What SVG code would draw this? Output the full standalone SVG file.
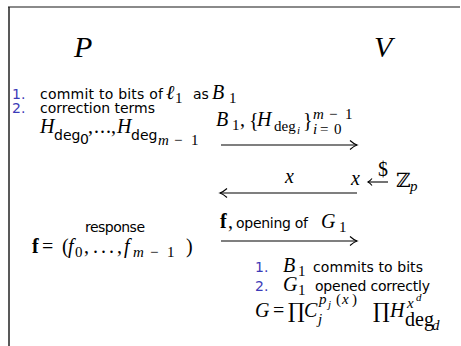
<svg xmlns="http://www.w3.org/2000/svg" width="461" height="346" viewBox="0 0 461 346">
<style>
.s{font-family:"DejaVu Sans","Liberation Sans",sans-serif;font-size:14px;fill:#000}
.n{font-family:"DejaVu Sans","Liberation Sans",sans-serif;font-size:14px;fill:#3b3bb8}
.m{font-family:"Liberation Serif","DejaVu Serif",serif;font-style:italic;font-size:20px;fill:#000}
.r{font-family:"Liberation Serif","DejaVu Serif",serif;font-size:20px;fill:#000}
.b{font-family:"Liberation Serif","DejaVu Serif",serif;font-weight:bold;font-size:20px;fill:#000}
.sub{font-size:15px}
.ss{font-size:11px}
.pr{font-family:"DejaVu Serif","Liberation Serif",serif;font-size:21px;fill:#000}
.cal{font-family:"Liberation Serif","DejaVu Serif",serif;font-style:italic;font-size:30px;fill:#000}
.ln{stroke:#000;stroke-width:1.1;fill:none}
</style>
<defs>
<marker id="ah" markerWidth="12" markerHeight="12" refX="10" refY="6" orient="auto" markerUnits="userSpaceOnUse">
<path d="M3 1.5 Q7 5 10 6 Q7 7 3 10.5" fill="none" stroke="#000" stroke-width="1.1"/>
</marker>
</defs>
<rect width="461" height="346" fill="#fff"/>
<g id="frame">
<line x1="8" y1="7" x2="460" y2="7" stroke="#8a8a8a" stroke-width="2"/>
<line x1="9" y1="7" x2="9" y2="346" stroke="#222" stroke-width="1.5"/>
</g>
<g id="prover"><text class="cal" x="74" y="57">P</text></g>
<g id="verifier"><text class="cal" x="374" y="57">V</text></g>
<g id="prover-steps">
<text class="n" x="12" y="99">1.</text>
<text class="s" x="40" y="99" textLength="123">commit to bits of</text>
<text class="m" x="166" y="99">ℓ</text><text class="r sub" x="175" y="103">1</text>
<text class="s" x="193" y="99">as</text>
<text class="m" x="212" y="99">B</text><text class="r sub" x="229" y="103">1</text>
<text class="n" x="12" y="113">2.</text>
<text class="s" x="40" y="113" textLength="115">correction terms</text>
<text class="m" x="40" y="133">H</text><text class="s" x="54" y="140">deg</text><text class="s" x="80" y="144" font-size="11">0</text>
<text class="r" x="88" y="133">,</text><text class="r" x="94" y="133" font-size="16">.</text><text class="r" x="100" y="133" font-size="16">.</text><text class="r" x="106" y="133" font-size="16">.</text><text class="r" x="111" y="133">,</text>
<text class="m" x="117" y="133">H</text><text class="s" x="131" y="140">deg</text><text class="m sub" x="158" y="145">m</text><text class="r sub" x="174" y="145">−</text><text class="r sub" x="191" y="145">1</text>
</g>
<g id="response">
<text class="s" x="85" y="232" textLength="60">response</text>
<text class="b" x="32" y="253">f</text>
<text class="r" x="42" y="253">=</text>
<text class="r" x="62" y="253">(</text>
<text class="m" x="68" y="253">f</text><text class="r sub" x="75" y="257">0</text>
<text class="r" x="84" y="253">,</text><text class="r" x="93" y="253" font-size="16">.</text><text class="r" x="101" y="253" font-size="16">.</text><text class="r" x="109" y="253" font-size="16">.</text><text class="r" x="117" y="253">,</text>
<text class="m" x="124" y="253">f</text><text class="m sub" x="133" y="257">m</text><text class="r sub" x="150" y="257">−</text><text class="r sub" x="167" y="257">1</text>
<text class="r" x="186" y="253">)</text>
</g>
<g id="verifier-challenge">
<text class="m" x="351" y="185">x</text>
<text class="r" x="378" y="176" font-size="10">$</text>
<line x1="368" y1="182" x2="388" y2="182" class="ln"/>
<path d="M372 178.5 Q370 181 368 182 Q370 183 372 185.5" class="ln"/>
<text class="r" x="396" y="187">ℤ</text><text class="m sub" x="410" y="191">p</text>
</g>
<g id="verifier-checks">
<text class="n" x="255" y="272">1.</text>
<text class="m" x="283" y="272">B</text><text class="r sub" x="298" y="276">1</text>
<text class="s" x="313" y="272" textLength="110">commits to bits</text>
<text class="n" x="255" y="291">2.</text>
<text class="m" x="283" y="291">G</text><text class="r sub" x="298" y="295">1</text>
<text class="s" x="315" y="291" textLength="115">opened correctly</text>
<text class="m" x="255" y="317">G</text>
<text class="r" x="273" y="317">=</text>
<text class="pr" x="288" y="318">∏</text>
<text class="m" x="304" y="317">C</text>
<text class="m sub" x="319" y="304">p</text><text class="m ss" x="328" y="308">j</text><text class="r sub" x="336" y="304">(</text><text class="m sub" x="342" y="304">x</text><text class="r sub" x="352" y="304">)</text>
<text class="m sub" x="318" y="324">j</text>
<text class="pr" x="373" y="318">∏</text>
<text class="m" x="390" y="317">H</text>
<text class="m sub" x="407" y="308">x</text><text class="m ss" x="416" y="301">d</text>
<text class="r" x="405" y="326" font-size="17">deg</text><text class="m sub" x="432" y="330">d</text>
</g>
<g id="connectors">
<line x1="221" y1="145" x2="357" y2="145" class="ln" marker-end="url(#ah)"/>
<line x1="357" y1="193" x2="220" y2="193" class="ln" marker-end="url(#ah)"/>
<line x1="221" y1="241" x2="357" y2="241" class="ln" marker-end="url(#ah)"/>
</g>
<g id="connector-labels">
<text class="m" x="216" y="126">B</text><text class="r sub" x="232" y="130">1</text><text class="r" x="240" y="126">,</text>
<text class="r" x="249" y="127">{</text><text class="m" x="257" y="126">H</text><text class="r sub" x="274" y="131">deg</text><text class="m ss" x="297" y="134">i</text><text class="r" x="303" y="127">}</text>
<text class="m sub" x="313" y="119">m</text><text class="r sub" x="329" y="119">−</text><text class="r sub" x="345" y="119">1</text>
<text class="m sub" x="313" y="134">i</text><text class="r sub" x="320" y="134">=</text><text class="r sub" x="334" y="134">0</text>
<text class="m" x="285" y="183">x</text>
<text class="b" x="220" y="228">f</text><text class="r" x="228" y="228">,</text>
<text class="s" x="236" y="228" textLength="72">opening of</text>
<text class="m" x="321" y="228">G</text><text class="r sub" x="339" y="232">1</text>
</g>
</svg>
